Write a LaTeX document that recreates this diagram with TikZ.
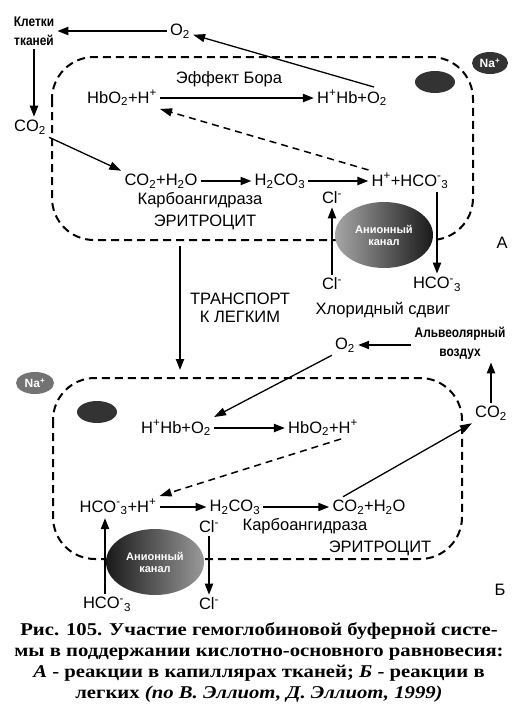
\documentclass[tikz,border=0pt]{standalone}
\usepackage{fontspec}
\setmainfont{Liberation Sans}
\newfontfamily\narrowfont[FakeStretch=0.85]{Liberation Sans}
\newfontfamily\capfont[FakeStretch=1.15]{Liberation Serif}
\usetikzlibrary{arrows.meta, shapes.geometric}

\tikzset{
  lbl/.style={font=\fontsize{16.5}{18}\selectfont, inner sep=3pt},
  narrowlbl/.style={font=\narrowfont\bfseries\fontsize{14}{19}\selectfont, align=center, inner sep=3pt},
  arr/.style={line width=2pt, -{Triangle[length=11pt,width=8pt]}},
  thinarr/.style={line width=1.3pt, -{Triangle[length=12pt,width=8pt]}},
  dasharr/.style={line width=1.5pt, dash pattern=on 7pt off 5pt, -{Triangle[length=12pt,width=8pt]}},
  cell/.style={line width=2pt, dash pattern=on 8pt off 5pt, rounded corners=42pt},
  blob/.style={ellipse, inner sep=0pt, minimum width=40pt, minimum height=22pt, fill=black!80},
  channel/.style={ellipse, inner sep=0pt, minimum width=98pt, minimum height=66pt, align=center,
    text=white, font=\bfseries\fontsize{11}{12}\selectfont},
}

\begin{document}
\begin{tikzpicture}[x=1pt, y=-1pt]
      \useasboundingbox (0,0) rectangle (518,716);
      % Cells:
      \draw[cell] (52,57) rectangle (473,240);
      \draw[cell] (53,378) rectangle (462,559);
      % Channels and ions:
      \node[channel, left color=black!35, right color=black!90] (chanA) at (384,235) {Анионный\\канал};
      \node[channel, left color=black!90, right color=black!40] (chanB) at (155,562) {Анионный\\канал};
      \node[blob] (blobA) at (435,82) {};
      \node[blob] (blobB) at (97,412) {};
      \node[blob, minimum width=36pt, text=white, font=\bfseries\fontsize{12}{12}\selectfont] (naA) at (490,63) {Na\textsuperscript{+}};
      \node[blob, minimum width=38pt, fill=black!55, text=white, font=\bfseries\fontsize{12}{12}\selectfont] (naB) at (35,383) {Na\textsuperscript{+}};

      % A: tissues
      \node[narrowlbl] (kletki) at (34,31) {Клетки\\тканей};
      \node[lbl] (o2a) at (180,31) {O\textsubscript{2}};
      \node[lbl] (co2a) at (30,127) {CO\textsubscript{2}};
      \node[lbl] (bohr) at (229,79) {Эффект Бора};
      \node[lbl] (hbo2a) at (122,98) {HbO\textsubscript{2}+H\textsuperscript{+}};
      \node[lbl] (hhba) at (352,98) {H\textsuperscript{+}Hb+O\textsubscript{2}};
      \node[lbl] (co2h2oa) at (161,181) {CO\textsubscript{2}+H\textsubscript{2}O};
      \node[lbl] (h2co3a) at (280,181) {H\textsubscript{2}CO\textsubscript{3}};
      \node[lbl] (hhco3a) at (410,181) {H\textsuperscript{+}+HCO\textsuperscript{-}\textsubscript{3}};
      \node[lbl] (carboa) at (200,200) {Карбоангидраза};
      \node[lbl] (erya) at (205,222) {ЭРИТРОЦИТ};
      \node[lbl] (cltopa) at (332,198) {Cl\textsuperscript{-}};
      \node[lbl] (clbota) at (332,284) {Cl\textsuperscript{-}};
      \node[lbl] (hco3a) at (437,284) {HCO\textsuperscript{-}\textsubscript{3}};
      \node[lbl] (chlorid) at (383,310) {Хлоридный сдвиг};
      \node[lbl] (partA) at (502,243) {А};
      \draw[arr] (o2a) -- (kletki);
      \draw[thinarr] ([xshift=-16pt]hhba.north east) -- (o2a);
      \draw[arr] (kletki.south) -- (kletki.south |- co2a.north);
      \draw[thinarr] (co2a.south east) -- (co2h2oa.north west);
      \draw[arr] (hbo2a) -- (hhba);
      \draw[arr] (co2h2oa) -- (h2co3a);
      \draw[arr] (h2co3a) -- (hhco3a);
      \draw[dasharr] (hhco3a.north west) -- (hbo2a.south east);
      \draw[arr] (clbota) -- (cltopa);
      \draw[arr] (hco3a |- hhco3a.south) -- (hco3a);

      % Transport:
      \node[lbl, align=center] (transp) at (240,308) {ТРАНСПОРТ\\К ЛЕГКИМ};
      \coordinate (tA) at (180,246);
      \coordinate (tB) at (180,370);
      \draw[arr] (tA) -- (tB);

      % B: lungs
      \node[narrowlbl] (alv) at (460,343) {Альвеолярный\\воздух};
      \node[lbl] (o2b) at (345,345) {O\textsubscript{2}};
      \node[lbl] (co2b) at (491,413) {CO\textsubscript{2}};
      \node[lbl] (hhbb) at (176,428) {H\textsuperscript{+}Hb+O\textsubscript{2}};
      \node[lbl] (hbo2b) at (323,428) {HbO\textsubscript{2}+H\textsuperscript{+}};
      \node[lbl] (hco3hb) at (118,507) {HCO\textsuperscript{-}\textsubscript{3}+H\textsuperscript{+}};
      \node[lbl] (h2co3b) at (235,507) {H\textsubscript{2}CO\textsubscript{3}};
      \node[lbl] (co2h2ob) at (369,507) {CO\textsubscript{2}+H\textsubscript{2}O};
      \node[lbl] (carbob) at (305,526) {Карбоангидраза};
      \node[lbl] (eryb) at (380,548) {ЭРИТРОЦИТ};
      \node[lbl, inner sep=1pt] (cltopb) at (209,527) {Cl\textsuperscript{-}};
      \node[lbl] (clbotb) at (209,604) {Cl\textsuperscript{-}};
      \node[lbl] (hco3b) at (107,604) {HCO\textsuperscript{-}\textsubscript{3}};
      \node[lbl] (partB) at (500,590) {Б};
      \draw[arr] (alv.west |- o2b) -- (o2b);
      \draw[arr] (co2b) -- (co2b |- alv.south);
      \draw[thinarr] (o2b.south west) -- (hhbb.north east);
      \draw[arr] (hhbb) -- (hbo2b);
      \draw[dasharr] ([xshift=18pt]hbo2b.south) -- (hco3hb.north east);
      \draw[arr] (hco3hb) -- (h2co3b);
      \draw[arr] (h2co3b) -- (co2h2ob);
      \draw[thinarr] ([xshift=-26pt]co2h2ob.north) -- (co2b.south west);
      \draw[arr] ([yshift=-2pt]cltopb.south) -- (clbotb);
      \draw[arr] ([xshift=-2pt]hco3b.north) -- ([xshift=-2pt]hco3b.north |- hco3hb.south);

      % Caption:
      \node[font=\capfont\bfseries\fontsize{18}{21}\selectfont, align=center] (caption) at (259,662)
        {Рис. 105. Участие гемоглобиновой буферной систе-\\
         мы в поддержании кислотно-основного равновесия:\\
         {\itshape А} - реакции в капиллярах тканей; {\itshape Б} - реакции в\\
         легких {\itshape (по В. Эллиот, Д. Эллиот, 1999)}};
    \end{tikzpicture}
\end{document}
